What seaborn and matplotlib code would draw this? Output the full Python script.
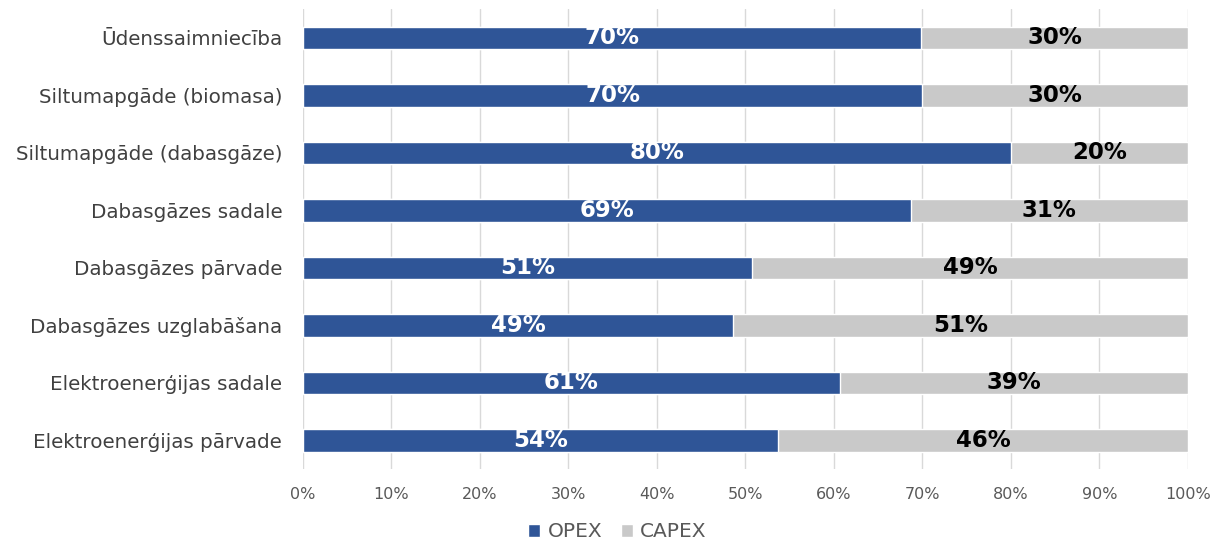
import numpy as np
import pandas as pd
import matplotlib
matplotlib.use("Agg")
import matplotlib.pyplot as plt
from matplotlib.patches import Patch
import seaborn as sns

categories = [
    "Ūdenssaimniecība",
    "Siltumapgāde (biomasa)",
    "Siltumapgāde (dabasgāze)",
    "Dabasgāzes sadale",
    "Dabasgāzes pārvade",
    "Dabasgāzes uzglabāšana",
    "Elektroenerģijas sadale",
    "Elektroenerģijas pārvade",
]
opex = [69.9, 70.0, 80.0, 68.7, 50.8, 48.6, 60.7, 53.7]
capex = [30.1, 30.0, 20.0, 31.3, 49.2, 51.4, 39.3, 46.3]
x_ticks = [0, 10, 20, 30, 40, 50, 60, 70, 80, 90, 100]

opex_color = "#2F5597"
capex_color = "#C9C9C9"

df = pd.DataFrame({"cat": categories, "OPEX": opex, "CAPEX": capex})
df["total"] = df["OPEX"] + df["CAPEX"]

sns.set_style("white")
plt.rcParams["font.family"] = ["DejaVu Sans"]

fig = plt.figure(figsize=(12.12, 5.41), dpi=100)
ax = fig.add_axes([0.25, 0.133, 0.73, 0.85])

# grey full bar first, then OPEX on top -> stacked look
sns.barplot(data=df, y="cat", x="total", color=capex_color, orient="h",
            width=0.39, ax=ax, saturation=1, zorder=2)
sns.barplot(data=df, y="cat", x="OPEX", color=opex_color, orient="h",
            width=0.39, ax=ax, saturation=1, zorder=3)

for i, (o, c) in enumerate(zip(df["OPEX"], df["CAPEX"])):
    ax.text(o / 2, i, f"{round(o):d}%", color="white", fontsize=16.5,
            fontweight="bold", ha="center", va="center", zorder=4)
    ax.text(o + c / 2, i, f"{round(c):d}%", color="black", fontsize=16.5,
            fontweight="bold", ha="center", va="center", zorder=4)

ax.set_xlim(0, 100)
ax.set_ylim(7.5, -0.5)
ax.set_xticks(x_ticks)
ax.set_xticklabels([f"{t}%" for t in x_ticks], color="#595959", fontsize=11.5)
ax.tick_params(axis="y", labelsize=14.3, labelcolor="#404040", length=0, pad=15)
ax.tick_params(axis="x", length=0, pad=13)
ax.set_xlabel("")
ax.set_ylabel("")
ax.grid(axis="x", color="#D9D9D9", linewidth=1, zorder=0)
ax.set_axisbelow(True)
for s in ax.spines.values():
    s.set_visible(False)

handles = [Patch(facecolor=opex_color, label="OPEX"),
           Patch(facecolor=capex_color, label="CAPEX")]
fig.legend(handles=handles, loc="center", bbox_to_anchor=(0.5095, 0.017),
           ncol=2, frameon=False, fontsize=14.5, handlelength=0.6,
           handleheight=0.6, handletextpad=0.35, columnspacing=0.95,
           labelcolor="#595959")

fig.savefig("out.png", dpi=100)
